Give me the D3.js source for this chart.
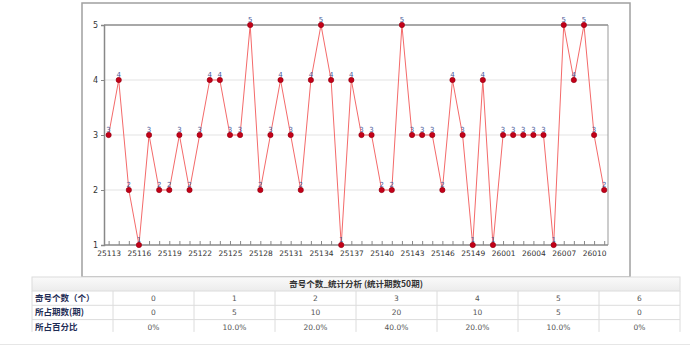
<!DOCTYPE html>
<html><head><meta charset="utf-8">
<script src="https://cdn.jsdelivr.net/npm/d3@7"></script>
<style>
html,body{margin:0;padding:0;background:#fff;}
svg{display:block;font-family:"Noto Sans CJK SC","DejaVu Sans",sans-serif;}
</style></head>
<body>
<svg id="c" width="690" height="352"></svg>
<script>
// ---- data ----
const periods = [];
for (let p = 25113; p <= 25151; p++) periods.push(String(p));
for (let p = 26001; p <= 26011; p++) periods.push(String(p));
const oddCounts = [3,4,2,1,3,2,2,3,2,3,4,4,3,3,5,2,3,4,3,2,4,5,4,1,4,3,3,2,2,5,
                   3,3,3,2,4,3,1,4,1,3,3,3,3,3,1,5,4,5,3,2];
const yTicks = [1,2,3,4,5];
const tableTitle = "奇号个数_统计分析 (统计期数50期)";
const rowLabels = ["奇号个数（个）", "所占期数(期)", "所占百分比"];
const countValues = ["0","1","2","3","4","5","6"];
const periodValues = ["0","5","10","20","10","5","0"];
const percentValues = ["0%","10.0%","20.0%","40.0%","20.0%","10.0%","0%"];

const svg = d3.select("#c");

// outer chart frame
svg.append("rect").attr("x",82).attr("y",3).attr("width",548).attr("height",274)
  .attr("fill","#fff").attr("stroke","#a0a0a0").attr("stroke-width",1.5);

const x = d3.scaleLinear().domain([0, periods.length-1]).range([108.6, 604.2]);
const y = d3.scaleLinear().domain([1,5]).range([245, 25]);
const L = 104, R = 608;

// gridlines
svg.append("g").selectAll("line").data([2,3,4]).join("line")
  .attr("x1",L).attr("x2",R).attr("y1",d=>y(d)).attr("y2",d=>y(d))
  .attr("stroke","#ececec").attr("stroke-width",1.5);

// top border & right border of plot
svg.append("line").attr("x1",L).attr("x2",R).attr("y1",y(5)).attr("y2",y(5))
  .attr("stroke","#a8a8a8").attr("stroke-width",2);
svg.append("line").attr("x1",R).attr("x2",R).attr("y1",y(5)).attr("y2",y(1))
  .attr("stroke","#999").attr("stroke-width",1);

// y axis
const yAxis = d3.axisLeft(y).tickValues(yTicks).tickSize(3).tickPadding(3).tickFormat(d3.format("d"));
const gy = svg.append("g").attr("transform",`translate(${L},0)`).call(yAxis);
gy.select(".domain").attr("stroke","#888").attr("stroke-width",1.5);
gy.selectAll(".tick line").attr("stroke","#888");
gy.selectAll("text").attr("font-size",8).attr("fill","#333").attr("font-family","DejaVu Sans");

// x axis
const xAxis = d3.axisBottom(x).tickValues(d3.range(periods.length)).tickSize(0)
  .tickFormat(i => i % 3 === 0 ? periods[i] : "").tickPadding(6);
const gx = svg.append("g").attr("transform",`translate(0,${y(1)})`).call(xAxis);
gx.select(".domain").remove();
svg.append("line").attr("x1",L).attr("x2",R).attr("y1",y(1)).attr("y2",y(1))
  .attr("stroke","#888").attr("stroke-width",1.5);
gx.selectAll(".tick").append("line").attr("y1",-4).attr("y2",0).attr("stroke","#888");
gx.selectAll("text").attr("font-size",7.5).attr("fill","#333").attr("font-family","DejaVu Sans");

// line
svg.append("path").datum(oddCounts)
  .attr("d", d3.line().x((d,i)=>x(i)).y(d=>y(d)))
  .attr("fill","none").attr("stroke","#f46a6a").attr("stroke-width",1);

// markers (small diamonds)
svg.append("g").selectAll("path").data(oddCounts).join("path")
  .attr("transform",(d,i)=>`translate(${x(i)},${y(d)})`)
  .attr("d", d3.symbol().type(d3.symbolCircle).size(22)())
  .attr("fill","#c40018").attr("stroke","#8e0010").attr("stroke-width",0.6);

// value labels
svg.append("g").selectAll("text").data(oddCounts).join("text")
  .attr("x",(d,i)=>x(i)).attr("y",d=>y(d)-3.5)
  .attr("text-anchor","middle").attr("font-size",7).attr("fill","#4a5a9a")
  .attr("font-family","DejaVu Sans").text(d=>d);

// ---- table ----
const tX = 32, colW = 81, nCols = 8, tW = colW*nCols;
const hdrY = 277, hdrH = 14, rowH = 14.3;
const grad = svg.append("defs").append("linearGradient").attr("id","hg").attr("x1",0).attr("x2",0).attr("y1",0).attr("y2",1);
grad.append("stop").attr("offset","0").attr("stop-color","#fafafa");
grad.append("stop").attr("offset","1").attr("stop-color","#ececec");
svg.append("rect").attr("x",tX).attr("y",hdrY).attr("width",tW).attr("height",hdrH)
  .attr("fill","url(#hg)").attr("stroke","#dcdcdc");
svg.append("text").attr("x",tX+tW/2).attr("y",hdrY+10).attr("text-anchor","middle")
  .attr("font-size",8.5).attr("font-weight","bold").attr("fill","#333").text(tableTitle);

const rows = [countValues, periodValues, percentValues];
const tb = svg.append("g");
rows.forEach((vals, r) => {
  const ry = hdrY + hdrH + r*rowH;
  if (r < 2) tb.append("line").attr("x1",tX).attr("x2",tX+tW).attr("y1",ry+rowH).attr("y2",ry+rowH).attr("stroke","#dcdcdc");
  tb.append("text").attr("x",tX+3).attr("y",ry+10).attr("font-size",8.5).attr("font-weight","bold")
    .attr("fill","#1f2d55").text(rowLabels[r]);
  vals.forEach((v,c) => {
    tb.append("text").attr("x",tX+colW*(c+1)+colW/2).attr("y",ry+10).attr("text-anchor","middle")
      .attr("font-size",7.5).attr("fill","#555").attr("font-family","DejaVu Sans").text(v);
  });
});
const tBottom = hdrY + hdrH + 3*rowH - 2;
for (let c = 0; c <= nCols; c++) {
  tb.append("line").attr("x1",tX+c*colW).attr("x2",tX+c*colW).attr("y1",hdrY+hdrH).attr("y2",tBottom)
    .attr("stroke","#dcdcdc");
}
svg.append("line").attr("x1",0).attr("x2",690).attr("y1",344.5).attr("y2",344.5).attr("stroke","#e6e6e6");
</script>
</body></html>
